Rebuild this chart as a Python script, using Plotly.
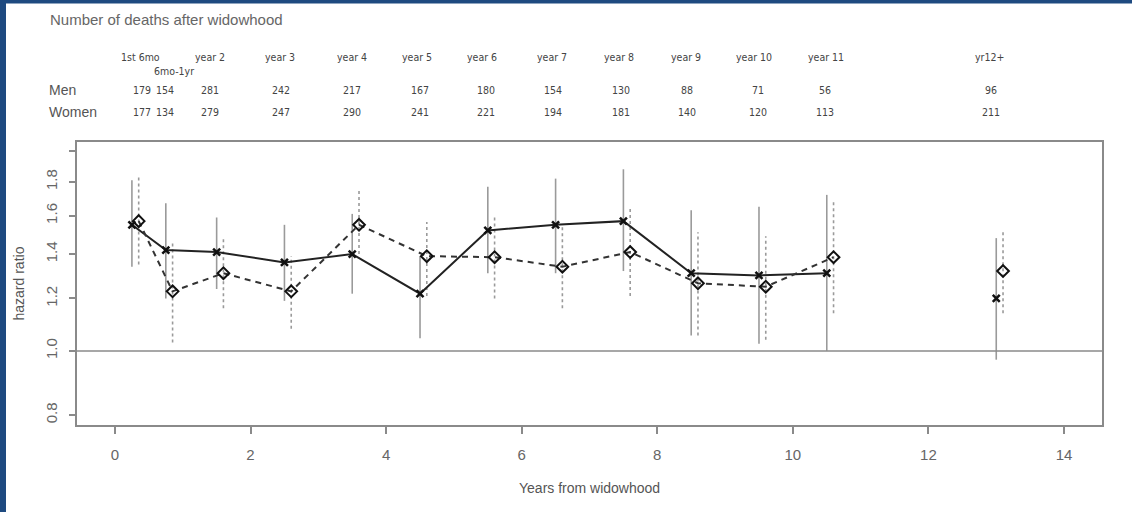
import math
import plotly.graph_objects as go

# ---------------- data ----------------
periods = ["1st 6mo", "6mo-1yr", "year 2", "year 3", "year 4", "year 5", "year 6",
           "year 7", "year 8", "year 9", "year 10", "year 11", "yr12+"]
deaths_men = [179, 154, 281, 242, 217, 167, 180, 154, 130, 88, 71, 56, 96]
deaths_women = [177, 134, 279, 247, 290, 241, 221, 194, 181, 140, 120, 113, 211]

men_x = [0.25, 0.75, 1.5, 2.5, 3.5, 4.5, 5.5, 6.5, 7.5, 8.5, 9.5, 10.5, 13.0]
men_hr = [1.55, 1.42, 1.41, 1.36, 1.40, 1.22, 1.52, 1.55, 1.57, 1.31, 1.30, 1.31, 1.20]
men_lo = [1.34, 1.20, 1.24, 1.19, 1.22, 1.045, 1.31, 1.31, 1.32, 1.055, 1.025, 1.00, 0.97]
men_hi = [1.81, 1.67, 1.59, 1.55, 1.61, 1.39, 1.77, 1.82, 1.88, 1.63, 1.65, 1.72, 1.48]

women_x = [0.35, 0.85, 1.6, 2.6, 3.6, 4.6, 5.6, 6.6, 7.6, 8.6, 9.6, 10.6, 13.1]
women_hr = [1.57, 1.23, 1.31, 1.23, 1.55, 1.39, 1.385, 1.34, 1.41, 1.265, 1.25, 1.385, 1.32]
women_lo = [1.35, 1.03, 1.16, 1.08, 1.40, 1.21, 1.20, 1.16, 1.21, 1.055, 1.04, 1.14, 1.14]
women_hi = [1.84, 1.465, 1.49, 1.39, 1.75, 1.565, 1.59, 1.54, 1.65, 1.51, 1.49, 1.69, 1.51]

n_connected = 12  # last period (yr12+) is not joined to the rest

y_tick_vals = [0.8, 1.0, 1.2, 1.4, 1.6, 1.8, 2.0]
y_tick_text = ["0.8", "1.0", "1.2", "1.4", "1.6", "1.8", ""]
x_tick_vals = [0, 2, 4, 6, 8, 10, 12, 14]

# ---------------- layout constants ----------------
W, H = 1132, 512
L, R, T, B = 77, 30, 142, 87
PW, PH = W - L - R, H - T - B
FONT_REG = "Liberation Sans, Arial, Helvetica, sans-serif"
FONT_NARROW = "Liberation Sans Narrow, Arial Narrow, DejaVu Sans Condensed, Liberation Sans, sans-serif"
TXT = "#555555"
BLUE = "#1e4a80"

# table column centres (x-axis units)
hdr_pos = [0.37, 0.87, 1.40, 2.44, 3.49, 4.45, 5.42, 6.44, 7.43, 8.43, 9.42, 10.49, 12.9]
num_pos = [0.40, 0.74, 1.40, 2.45, 3.49, 4.50, 5.47, 6.46, 7.46, 8.44, 9.48, 10.48, 12.92]


def px(xpix):
    return (xpix - L) / PW


def py(ypix):
    return (H - B - ypix) / PH


def segs(xs, lo, hi):
    sx, sy = [], []
    for x, a, b in zip(xs, lo, hi):
        sx += [x, x, None]
        sy += [a, b, None]
    return sx, sy


fig = go.Figure()

mx, my = segs(men_x, men_lo, men_hi)
fig.add_trace(go.Scatter(x=mx, y=my, mode="lines",
                         line=dict(color="#9a9a9a", width=1.6), hoverinfo="skip"))
wx, wy = segs(women_x, women_lo, women_hi)
fig.add_trace(go.Scatter(x=wx, y=wy, mode="lines",
                         line=dict(color="#9a9a9a", width=1.6, dash="dot"), hoverinfo="skip"))

fig.add_trace(go.Scatter(x=men_x[:n_connected], y=men_hr[:n_connected], mode="lines",
                         line=dict(color="#222222", width=2)))
fig.add_trace(go.Scatter(x=women_x[:n_connected], y=women_hr[:n_connected], mode="lines",
                         line=dict(color="#333333", width=2, dash="6px,5px")))

fig.add_trace(go.Scatter(x=men_x, y=men_hr, mode="markers",
                         marker=dict(symbol="x-thin-open", size=7, color="#111111",
                                     line=dict(color="#111111", width=2.5))))
fig.add_trace(go.Scatter(x=women_x, y=women_hr, mode="markers",
                         marker=dict(symbol="diamond-open", size=9, color="#111111",
                                     line=dict(color="#111111", width=2))))

# reference line at HR = 1
fig.add_shape(type="line", xref="paper", x0=0, x1=1, yref="y", y0=1.0, y1=1.0,
              line=dict(color="#8a8a8a", width=1.5))

ann = []
ann.append(dict(text="Number of deaths after widowhood", x=px(48), y=py(19), xref="paper",
                yref="paper", xanchor="left", yanchor="middle", showarrow=False,
                font=dict(family=FONT_REG, size=15, color="#666666")))
ann.append(dict(text="Men", x=px(47), y=py(90), xref="paper", yref="paper",
                xanchor="left", yanchor="middle", showarrow=False,
                font=dict(family=FONT_REG, size=14, color=TXT)))
ann.append(dict(text="Women", x=px(47), y=py(112), xref="paper", yref="paper",
                xanchor="left", yanchor="middle", showarrow=False,
                font=dict(family=FONT_REG, size=14, color=TXT)))
for i, lab in enumerate(periods):
    ann.append(dict(text=lab, x=hdr_pos[i], y=py(70.5 if i == 1 else 57), xref="x",
                    yref="paper", xanchor="center", yanchor="middle", showarrow=False,
                    font=dict(family=FONT_NARROW, size=10.5, color="#444444")))
    ann.append(dict(text=str(deaths_men[i]), x=num_pos[i], y=py(90), xref="x",
                    yref="paper", xanchor="center", yanchor="middle", showarrow=False,
                    font=dict(family=FONT_NARROW, size=10.5, color="#444444")))
    ann.append(dict(text=str(deaths_women[i]), x=num_pos[i], y=py(112), xref="x",
                    yref="paper", xanchor="center", yanchor="middle", showarrow=False,
                    font=dict(family=FONT_NARROW, size=10.5, color="#444444")))
ann.append(dict(text="Years from widowhood", x=0.5, y=py(488), xref="paper", yref="paper",
                xanchor="center", yanchor="middle", showarrow=False,
                font=dict(family=FONT_REG, size=14, color=TXT)))
ann.append(dict(text="hazard ratio", x=px(18), y=0.5, xref="paper", yref="paper",
                xanchor="center", yanchor="middle", textangle=-90, showarrow=False,
                font=dict(family=FONT_REG, size=14, color=TXT)))

shapes = [
    dict(type="rect", xref="paper", yref="paper", x0=px(0), x1=px(6), y0=py(H), y1=py(0),
         fillcolor=BLUE, line=dict(width=0), layer="above"),
    dict(type="rect", xref="paper", yref="paper", x0=px(0), x1=px(W), y0=py(3.5), y1=py(0),
         fillcolor=BLUE, line=dict(width=0), layer="above"),
]
for s in shapes:
    fig.add_shape(**s)

fig.update_layout(
    width=W, height=H, margin=dict(l=L, r=R, t=T, b=B, pad=0),
    paper_bgcolor="white", plot_bgcolor="white", showlegend=False,
    annotations=ann,
    xaxis=dict(range=[-0.56, 14.56], tickvals=x_tick_vals, ticks="outside", ticklen=7,
               tickwidth=1.5, tickcolor="#8a8a8a", showline=True, linecolor="#8a8a8a",
               linewidth=1.5, mirror=True, showgrid=False, zeroline=False,
               ticklabelstandoff=8,
               tickfont=dict(family=FONT_REG, size=15, color="#666666")),
    yaxis=dict(type="log", range=[math.log10(0.773), math.log10(2.067)],
               tickvals=y_tick_vals, ticktext=y_tick_text, ticks="outside", ticklen=6,
               tickwidth=1.5, tickcolor="#8a8a8a", showline=True, linecolor="#8a8a8a",
               linewidth=1.5, mirror=True, showgrid=False, zeroline=False,
               tickangle=-90, ticklabelstandoff=6,
               tickfont=dict(family=FONT_REG, size=15, color="#666666")),
)

fig.write_html("out.html", config={"displayModeBar": False},
               post_script="document.body.style.margin='0';document.body.style.overflow='hidden';")
